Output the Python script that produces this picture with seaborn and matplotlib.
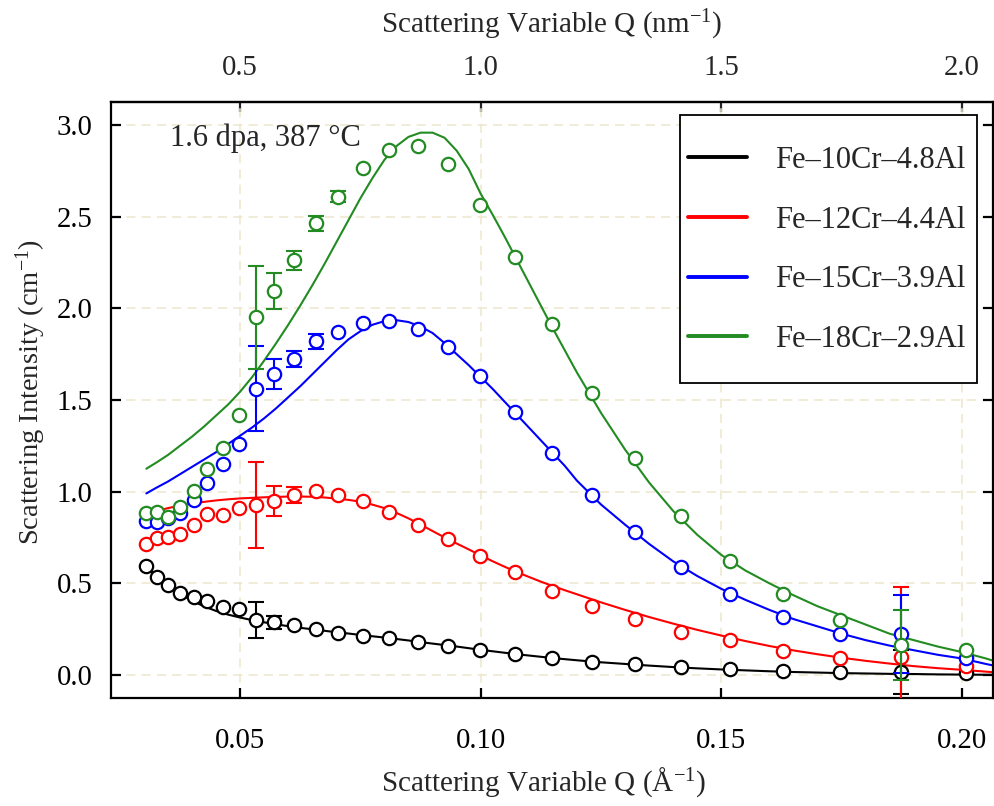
import numpy as np
import pandas as pd
import matplotlib
matplotlib.use("Agg")
import matplotlib.pyplot as plt
from matplotlib.lines import Line2D
from matplotlib.patches import Rectangle
from matplotlib.ticker import FixedLocator, FormatStrFormatter
import seaborn as sns

# ---------------------------------------------------------------- data
alloys = ["Fe–10Cr–4.8Al", "Fe–12Cr–4.4Al", "Fe–15Cr–3.9Al", "Fe–18Cr–2.9Al"]
colors = ["black", "red", "blue", "#228B22"]

# measured scattering vector (1/Å)
q_data = [0.0305, 0.0327, 0.0350, 0.0375, 0.0404, 0.0431, 0.0464, 0.0497,
          0.0533, 0.0571, 0.0612, 0.0657, 0.0704, 0.0756, 0.0810, 0.0869,
          0.0932, 0.0999, 0.1072, 0.1149, 0.1232, 0.1321, 0.1417, 0.1519,
          0.1629, 0.1746, 0.1873, 0.2009]

# measured intensity (1/cm)
i_10cr = [0.592, 0.533, 0.489, 0.447, 0.426, 0.406, 0.368, 0.362,
          0.299, 0.288, 0.270, 0.248, 0.230, 0.214, 0.201, 0.178,
          0.158, 0.136, 0.112, 0.092, 0.073, 0.058, 0.042, 0.031,
          0.021, 0.015, 0.014, 0.010]
i_12cr = [0.716, 0.746, 0.754, 0.770, 0.819, 0.879, 0.873, 0.913,
          0.928, 0.949, 0.982, 1.004, 0.982, 0.951, 0.891, 0.817,
          0.741, 0.650, 0.560, 0.458, 0.377, 0.304, 0.235, 0.190,
          0.131, 0.091, 0.100, 0.049]
i_15cr = [0.837, 0.832, 0.855, 0.886, 0.955, 1.045, 1.150, 1.260,
          1.562, 1.641, 1.723, 1.819, 1.871, 1.920, 1.931, 1.886,
          1.788, 1.630, 1.434, 1.208, 0.981, 0.777, 0.590, 0.440,
          0.315, 0.222, 0.224, 0.090]
i_18cr = [0.882, 0.888, 0.860, 0.918, 1.005, 1.121, 1.236, 1.417,
          1.951, 2.092, 2.261, 2.464, 2.609, 2.763, 2.862, 2.886,
          2.786, 2.565, 2.280, 1.913, 1.538, 1.183, 0.867, 0.621,
          0.444, 0.298, 0.162, 0.136]

# one-sigma uncertainties
e_10cr = [0, 0, 0, 0, 0, 0, 0, 0, 0.100, 0.036, 0, 0, 0, 0, 0, 0,
          0, 0, 0, 0, 0, 0, 0, 0, 0, 0, 0.120, 0]
e_12cr = [0, 0, 0, 0, 0, 0, 0, 0, 0.234, 0.080, 0.042, 0, 0, 0, 0, 0,
          0, 0, 0, 0, 0, 0, 0, 0, 0, 0, 0.380, 0]
e_15cr = [0, 0, 0, 0, 0, 0, 0, 0, 0.230, 0.080, 0.045, 0.040, 0, 0, 0, 0,
          0, 0, 0, 0, 0, 0, 0, 0, 0, 0, 0.212, 0]
e_18cr = [0, 0, 0, 0, 0, 0, 0, 0, 0.280, 0.098, 0.050, 0.040, 0.030, 0, 0, 0,
          0, 0, 0, 0, 0, 0, 0, 0, 0, 0, 0.190, 0]

# model fit curves
q_fit = [0.0305, 0.0325, 0.0350, 0.0375, 0.0400, 0.0425, 0.0450, 0.0475,
         0.0500, 0.0525, 0.0550, 0.0575, 0.0600, 0.0625, 0.0650, 0.0675,
         0.0700, 0.0725, 0.0750, 0.0775, 0.0800, 0.0825, 0.0850, 0.0875,
         0.0900, 0.0925, 0.0950, 0.0975, 0.1000, 0.1025, 0.1050, 0.1075,
         0.1100, 0.1125, 0.1150, 0.1175, 0.1200, 0.125, 0.130, 0.135,
         0.140, 0.145, 0.150, 0.155, 0.160, 0.165, 0.170, 0.175, 0.180,
         0.185, 0.190, 0.195, 0.200, 0.205, 0.2065]
fit_10cr = [0.590, 0.540, 0.487, 0.443, 0.405, 0.374, 0.349, 0.329,
            0.313, 0.299, 0.287, 0.276, 0.266, 0.257, 0.249, 0.241,
            0.233, 0.226, 0.218, 0.211, 0.204, 0.196, 0.188, 0.179,
            0.171, 0.163, 0.155, 0.146, 0.137, 0.129, 0.121, 0.113,
            0.106, 0.099, 0.092, 0.086, 0.080, 0.069, 0.060, 0.051,
            0.043, 0.036, 0.030, 0.025, 0.020, 0.016, 0.013, 0.010, 0.008,
            0.006, 0.005, 0.003, 0.002, 0.001, 0.001]
fit_12cr = [0.875, 0.893, 0.910, 0.924, 0.935, 0.944, 0.952, 0.958,
            0.963, 0.966, 0.969, 0.971, 0.973, 0.973, 0.972, 0.968,
            0.962, 0.955, 0.945, 0.929, 0.910, 0.884, 0.854, 0.820,
            0.785, 0.750, 0.717, 0.685, 0.652, 0.620, 0.590, 0.561,
            0.535, 0.509, 0.485, 0.462, 0.440, 0.396, 0.355, 0.316,
            0.280, 0.246, 0.215, 0.185, 0.158, 0.134, 0.113, 0.094, 0.077,
            0.062, 0.048, 0.037, 0.028, 0.018, 0.015]
fit_15cr = [0.990, 1.020, 1.055, 1.095, 1.135, 1.175, 1.215, 1.260,
            1.305, 1.350, 1.400, 1.455, 1.515, 1.575, 1.640, 1.705,
            1.770, 1.830, 1.875, 1.910, 1.930, 1.935, 1.925, 1.900,
            1.865, 1.810, 1.750, 1.690, 1.625, 1.560, 1.490, 1.420,
            1.350, 1.280, 1.210, 1.140, 1.060, 0.930, 0.820, 0.715,
            0.620, 0.540, 0.470, 0.410, 0.355, 0.305, 0.265, 0.225, 0.190,
            0.160, 0.135, 0.110, 0.090, 0.060, 0.052]
fit_18cr = [1.125, 1.157, 1.200, 1.250, 1.300, 1.355, 1.415, 1.475,
            1.545, 1.625, 1.715, 1.810, 1.910, 2.015, 2.125, 2.240,
            2.360, 2.480, 2.600, 2.710, 2.810, 2.885, 2.935, 2.958,
            2.958, 2.930, 2.860, 2.760, 2.625, 2.510, 2.390, 2.265,
            2.140, 2.015, 1.890, 1.770, 1.650, 1.430, 1.230, 1.050,
            0.895, 0.765, 0.655, 0.570, 0.500, 0.435, 0.375, 0.325, 0.275,
            0.225, 0.190, 0.155, 0.125, 0.090, 0.078]

x_ticks = [0.05, 0.10, 0.15, 0.20]
y_ticks = [0.0, 0.5, 1.0, 1.5, 2.0, 2.5, 3.0]
top_ticks = [0.5, 1.0, 1.5, 2.0]

intensity = [i_10cr, i_12cr, i_15cr, i_18cr]
errors = [e_10cr, e_12cr, e_15cr, e_18cr]
fits = [fit_10cr, fit_12cr, fit_15cr, fit_18cr]

data_df = pd.concat(
    [pd.DataFrame({"Q": q_data, "I": i, "err": e, "alloy": a})
     for a, i, e in zip(alloys, intensity, errors)], ignore_index=True)
fit_df = pd.concat(
    [pd.DataFrame({"Q": q_fit, "I": f, "alloy": a})
     for a, f in zip(alloys, fits)], ignore_index=True)
palette = dict(zip(alloys, colors))

# ---------------------------------------------------------------- style
sns.set_style("ticks")
plt.rcParams["font.family"] = ["Liberation Serif", "DejaVu Serif"]
plt.rcParams["mathtext.fontset"] = "custom"
plt.rcParams["mathtext.rm"] = "Liberation Serif"
plt.rcParams["mathtext.it"] = "Liberation Serif:italic"
FS_TICK = 20.7
FS_LABEL = 21
FS_TEXT = 22

fig = plt.figure(figsize=(9.94, 8.06), dpi=100)
ax = fig.add_axes([0.1114, 0.1344, 0.8876, 0.7390])

# fitted curves
sns.lineplot(data=fit_df, x="Q", y="I", hue="alloy", hue_order=alloys,
             palette=palette, linewidth=1.5, sort=False, legend=False,
             ax=ax, zorder=2)

# error bars and measured points, one alloy on top of the previous
for k, (a, c) in enumerate(zip(alloys, colors)):
    sub = data_df[data_df["alloy"] == a]
    bars = sub[sub["err"] > 0]
    ax.errorbar(bars["Q"], bars["I"], yerr=bars["err"], fmt="none",
                ecolor=c, elinewidth=1.5, capsize=6, capthick=1.5,
                zorder=3 + 2 * k)
    sns.scatterplot(data=sub, x="Q", y="I", marker="o", s=92, color=c,
                    facecolor="white", edgecolor=c, linewidth=1.6,
                    legend=False, ax=ax, zorder=4 + 2 * k)

# axes ranges, ticks, grid
ax.set_xlim(0.0231, 0.2065)
ax.set_ylim(-0.124, 3.125)
ax.xaxis.set_major_locator(FixedLocator(x_ticks))
ax.yaxis.set_major_locator(FixedLocator(y_ticks))
ax.xaxis.set_major_formatter(FormatStrFormatter("%.2f"))
ax.yaxis.set_major_formatter(FormatStrFormatter("%.1f"))
ax.grid(True, color="#EEE7CB", linestyle=(0, (6, 4)), linewidth=1.1)
ax.set_axisbelow(True)
ax.tick_params(axis="both", which="major", direction="in", length=7,
               width=1.6, labelsize=FS_TICK, colors="black")
ax.tick_params(axis="x", pad=22, top=False)
ax.tick_params(axis="y", pad=13, right=True)
for sp in ax.spines.values():
    sp.set_linewidth(1.6)
    sp.set_color("black")

secax = ax.secondary_xaxis("top", functions=(lambda x: x * 10,
                                              lambda x: x / 10))
secax.xaxis.set_major_locator(FixedLocator(top_ticks))
secax.xaxis.set_major_formatter(FormatStrFormatter("%.1f"))
secax.tick_params(direction="in", length=7, width=1.6, labelsize=FS_TICK,
                  pad=15)
secax.spines["top"].set_linewidth(1.6)

ax.set_xlabel("Scattering Variable Q (Å$^{-1}$)", fontsize=FS_LABEL)
ax.set_ylabel("Scattering Intensity (cm$^{-1}$)", fontsize=20.5)
secax.set_xlabel("Scattering Variable Q (nm$^{-1}$)", fontsize=FS_LABEL,
                 labelpad=16)
ax.xaxis.set_label_coords(0.49, -0.113)
ax.yaxis.set_label_coords(-0.071, 0.513)

ax.text(0.0672, 0.9396, "1.6 dpa, 387 °C", transform=ax.transAxes,
        fontsize=FS_TEXT, ha="left", va="center", zorder=12)

# legend with a plain white box
box = Rectangle((0.6452, 0.5283), 0.3363, 0.4507, transform=ax.transAxes,
                facecolor="white", edgecolor="black", linewidth=1.3,
                zorder=12)
ax.add_patch(box)
handles = [Line2D([], [], color=c, linewidth=2.8) for c in colors]
leg = ax.legend(handles, alloys, loc="upper left",
                bbox_to_anchor=(0.654, 0.926), frameon=False,
                fontsize=FS_TEXT, handlelength=1.95, handletextpad=0.9,
                labelspacing=1.0, borderpad=0, borderaxespad=0)
leg.set_zorder(13)

fig.savefig("out.png", dpi=100, facecolor="white")
